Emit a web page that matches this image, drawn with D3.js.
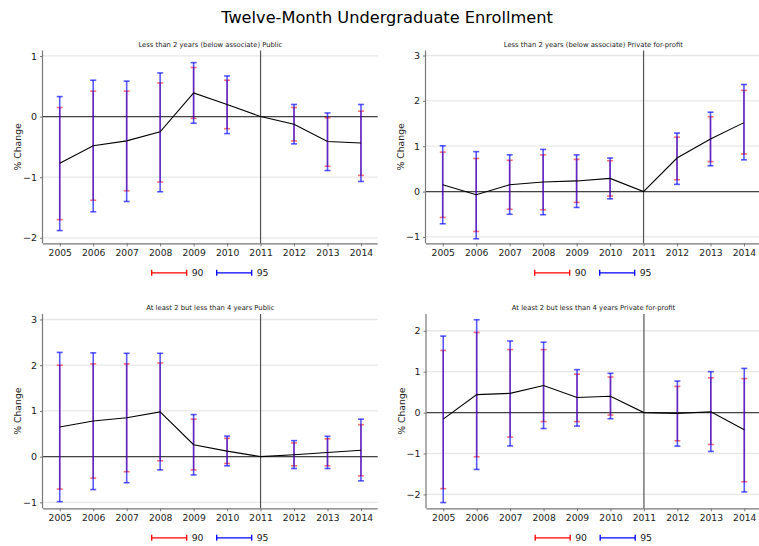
<!DOCTYPE html>
<html><head><meta charset="utf-8">
<script src="https://cdn.jsdelivr.net/npm/d3@7"></script>
<style>body{margin:0;background:#fff;}svg{display:block;font-family:"DejaVu Sans",sans-serif;}</style>
</head><body>
<script>
const mainTitle = "Twelve-Month Undergraduate Enrollment";
const years = [2005,2006,2007,2008,2009,2010,2011,2012,2013,2014];
const panelTitles = ["Less than 2 years (below associate) Public","Less than 2 years (below associate) Private for-profit","At least 2 but less than 4 years Public","At least 2 but less than 4 years Private for-profit"];
const legendLabels = ["90","95"];
const yTicks1 = [-2,-1,0,1];
const yTicks2 = [-1,0,1,2,3];
const yTicks3 = [-1,0,1,2,3];
const yTicks4 = [-2,-1,0,1,2];

// Panel 1
const p1Est  = [-0.77,-0.48,-0.40,-0.25,0.39,0.20,0,-0.125,-0.41,-0.435];
const p1Lo90 = [-1.70,-1.38,-1.225,-1.08,-0.03,-0.20,null,-0.40,-0.82,-0.97];
const p1Hi90 = [0.15,0.42,0.42,0.555,0.81,0.60,null,0.15,-0.02,0.09];
const p1Lo95 = [-1.88,-1.57,-1.40,-1.24,-0.11,-0.28,null,-0.45,-0.89,-1.07];
const p1Hi95 = [0.33,0.60,0.585,0.72,0.89,0.67,null,0.20,0.06,0.20];
// Panel 2
const p2Est  = [0.15,-0.07,0.15,0.21,0.235,0.29,0,0.74,1.16,1.52];
const p2Lo90 = [-0.57,-0.88,-0.39,-0.40,-0.24,-0.10,null,0.26,0.66,0.83];
const p2Hi90 = [0.87,0.73,0.69,0.81,0.71,0.68,null,1.20,1.65,2.23];
const p2Lo95 = [-0.71,-1.04,-0.50,-0.51,-0.35,-0.16,null,0.16,0.57,0.70];
const p2Hi95 = [1.01,0.88,0.81,0.93,0.81,0.74,null,1.29,1.75,2.36];
// Panel 3
const p3Est  = [0.65,0.78,0.85,0.98,0.26,0.12,0,0.04,0.09,0.14];
const p3Lo90 = [-0.71,-0.47,-0.33,-0.09,-0.29,-0.15,null,-0.20,-0.20,-0.42];
const p3Hi90 = [2.00,2.03,2.03,2.05,0.82,0.40,null,0.30,0.39,0.70];
const p3Lo95 = [-0.985,-0.72,-0.57,-0.29,-0.40,-0.20,null,-0.26,-0.26,-0.53];
const p3Hi95 = [2.28,2.27,2.26,2.26,0.92,0.45,null,0.35,0.445,0.82];
// Panel 4
const p4Est  = [-0.16,0.44,0.47,0.66,0.37,0.40,0,-0.02,0.02,-0.42];
const p4Lo90 = [-1.86,-1.08,-0.60,-0.22,-0.22,-0.06,null,-0.69,-0.78,-1.69];
const p4Hi90 = [1.52,1.96,1.54,1.54,0.94,0.87,null,0.64,0.85,0.83];
const p4Lo95 = [-2.20,-1.39,-0.815,-0.39,-0.33,-0.15,null,-0.82,-0.95,-1.94];
const p4Hi95 = [1.87,2.27,1.75,1.72,1.05,0.96,null,0.77,1.00,1.08];

const W = 759, H = 546;
const svg = d3.select("body").append("svg").attr("width", W).attr("height", H);

svg.append("text").attr("x", 387).attr("y", 23).attr("text-anchor","middle")
  .attr("font-size", 16.2).attr("fill","#000").text(mainTitle);

const panels = [
  {title: panelTitles[0], est:p1Est, lo90:p1Lo90, hi90:p1Hi90, lo95:p1Lo95, hi95:p1Hi95, ticks:yTicks1, dom:[-2.09,1.09], x0:43, x1:377.7, y0:50.5, y1:243.3},
  {title: panelTitles[1], est:p2Est, lo90:p2Lo90, hi90:p2Hi90, lo95:p2Lo95, hi95:p2Hi95, ticks:yTicks2, dom:[-1.14,3.11], x0:426, x1:760.7, y0:50.5, y1:243.3},
  {title: panelTitles[2], est:p3Est, lo90:p3Lo90, hi90:p3Hi90, lo95:p3Lo95, hi95:p3Hi95, ticks:yTicks3, dom:[-1.13,3.12], x0:43, x1:377.7, y0:314, y1:508.3},
  {title: panelTitles[3], est:p4Est, lo90:p4Lo90, hi90:p4Hi90, lo95:p4Lo95, hi95:p4Hi95, ticks:yTicks4, dom:[-2.34,2.41], x0:426.5, x1:761, y0:314, y1:508.3}
];

const RED = "#ff0000", BLUE = "#0000ff";

panels.forEach(p => {
  const g = svg.append("g");
  const x = d3.scaleLinear().domain([2004.5, 2014.5]).range([p.x0, p.x1]);
  const y = d3.scaleLinear().domain(p.dom).range([p.y1, p.y0]);

  // gridlines
  g.selectAll(".grid").data(p.ticks).join("line")
    .attr("x1", p.x0).attr("x2", p.x1).attr("y1", d=>y(d)).attr("y2", d=>y(d))
    .attr("stroke", "#e8e8e8").attr("stroke-width", 1.3);
  // zero line
  g.append("line").attr("x1", p.x0).attr("x2", p.x1).attr("y1", y(0)).attr("y2", y(0))
    .attr("stroke", "#444").attr("stroke-width", 1.2);
  // vertical 2011
  g.append("line").attr("x1", x(2011)).attr("x2", x(2011)).attr("y1", p.y0).attr("y2", p.y1)
    .attr("stroke", "#555").attr("stroke-width", 1.2);

  // axes
  const ya = d3.axisLeft(y).tickValues(p.ticks).tickFormat(d3.format("d")).tickSize(3).tickPadding(3);
  const yg = g.append("g").attr("transform", `translate(${p.x0},0)`).call(ya);
  yg.select(".domain").attr("d", `M-0.5,${p.y0}V${p.y1}`).attr("stroke","#777").attr("stroke-width",1.2);
  yg.selectAll(".tick line").attr("stroke","#777");
  yg.selectAll(".tick text").attr("font-size", 9.5).attr("fill","#222").attr("font-family","DejaVu Sans");

  const xa = d3.axisBottom(x).tickValues(years).tickFormat(d3.format("d")).tickSize(3).tickPadding(3);
  const xg = g.append("g").attr("transform", `translate(0,${p.y1})`).call(xa);
  xg.select(".domain").attr("d", `M${p.x0},0.5H${p.x1}`).attr("stroke","#777").attr("stroke-width",1.2);
  xg.selectAll(".tick line").attr("stroke","#777");
  xg.selectAll(".tick text").attr("font-size", 9.2).attr("fill","#222").attr("font-family","DejaVu Sans");

  // title
  g.append("text").attr("x", (p.x0 + Math.min(p.x1, 759)) / 2 + (p.x1 > 759 ? 0.8 : 0)).attr("y", p.y0 - 4)
    .attr("text-anchor","middle").attr("font-size", 6.8).attr("fill","#222").text(p.title);
  // y label
  g.append("text").attr("transform", `translate(${p.x0 - 22},${(p.y0 + p.y1)/2}) rotate(-90)`)
    .attr("text-anchor","middle").attr("font-size", 9.3).attr("fill","#222").text("% Change");

  const idx = d3.range(years.length).filter(i => p.lo90[i] !== null);
  const cap = 3;
  // 90 bars (red)
  const r = g.append("g").attr("stroke", RED).attr("stroke-opacity", 0.55).attr("stroke-width", 1.6);
  r.selectAll(".v").data(idx).join("line")
    .attr("x1", i=>x(years[i])).attr("x2", i=>x(years[i])).attr("y1", i=>y(p.lo90[i])).attr("y2", i=>y(p.hi90[i]));
  r.selectAll(".ct").data(idx).join("line")
    .attr("x1", i=>x(years[i])-cap).attr("x2", i=>x(years[i])+cap).attr("y1", i=>y(p.hi90[i])).attr("y2", i=>y(p.hi90[i]));
  r.selectAll(".cb").data(idx).join("line")
    .attr("x1", i=>x(years[i])-cap).attr("x2", i=>x(years[i])+cap).attr("y1", i=>y(p.lo90[i])).attr("y2", i=>y(p.lo90[i]));
  // 95 bars (blue)
  const b = g.append("g").attr("stroke", BLUE).attr("stroke-opacity", 0.65).attr("stroke-width", 1.6);
  b.selectAll(".v").data(idx).join("line")
    .attr("x1", i=>x(years[i])).attr("x2", i=>x(years[i])).attr("y1", i=>y(p.lo95[i])).attr("y2", i=>y(p.hi95[i]));
  b.selectAll(".ct").data(idx).join("line")
    .attr("x1", i=>x(years[i])-cap).attr("x2", i=>x(years[i])+cap).attr("y1", i=>y(p.hi95[i])).attr("y2", i=>y(p.hi95[i]));
  b.selectAll(".cb").data(idx).join("line")
    .attr("x1", i=>x(years[i])-cap).attr("x2", i=>x(years[i])+cap).attr("y1", i=>y(p.lo95[i])).attr("y2", i=>y(p.lo95[i]));

  // estimate line
  const line = d3.line().x((d,i)=>x(years[i])).y(d=>y(d));
  g.append("path").datum(p.est).attr("d", line).attr("fill","none").attr("stroke","#000").attr("stroke-width",1.1);

  // legend
  const lx = p.x0 + 108.7, ly = p.y1 + 29.5;
  const items = [{c:RED, t:legendLabels[0], dx:0}, {c:BLUE, t:legendLabels[1], dx:65}];
  items.forEach(it => {
    const lg = g.append("g").attr("transform", `translate(${lx + it.dx},${ly})`);
    lg.append("line").attr("x1",0).attr("x2",35).attr("y1",0).attr("y2",0).attr("stroke",it.c).attr("stroke-width",1.3);
    lg.append("line").attr("x1",0).attr("x2",0).attr("y1",-3).attr("y2",3).attr("stroke",it.c).attr("stroke-width",1.3);
    lg.append("line").attr("x1",35).attr("x2",35).attr("y1",-3).attr("y2",3).attr("stroke",it.c).attr("stroke-width",1.3);
    lg.append("text").attr("x",40).attr("y",3.5).attr("font-size",9.3).attr("fill","#222").text(it.t);
  });
});
</script>
</body></html>
